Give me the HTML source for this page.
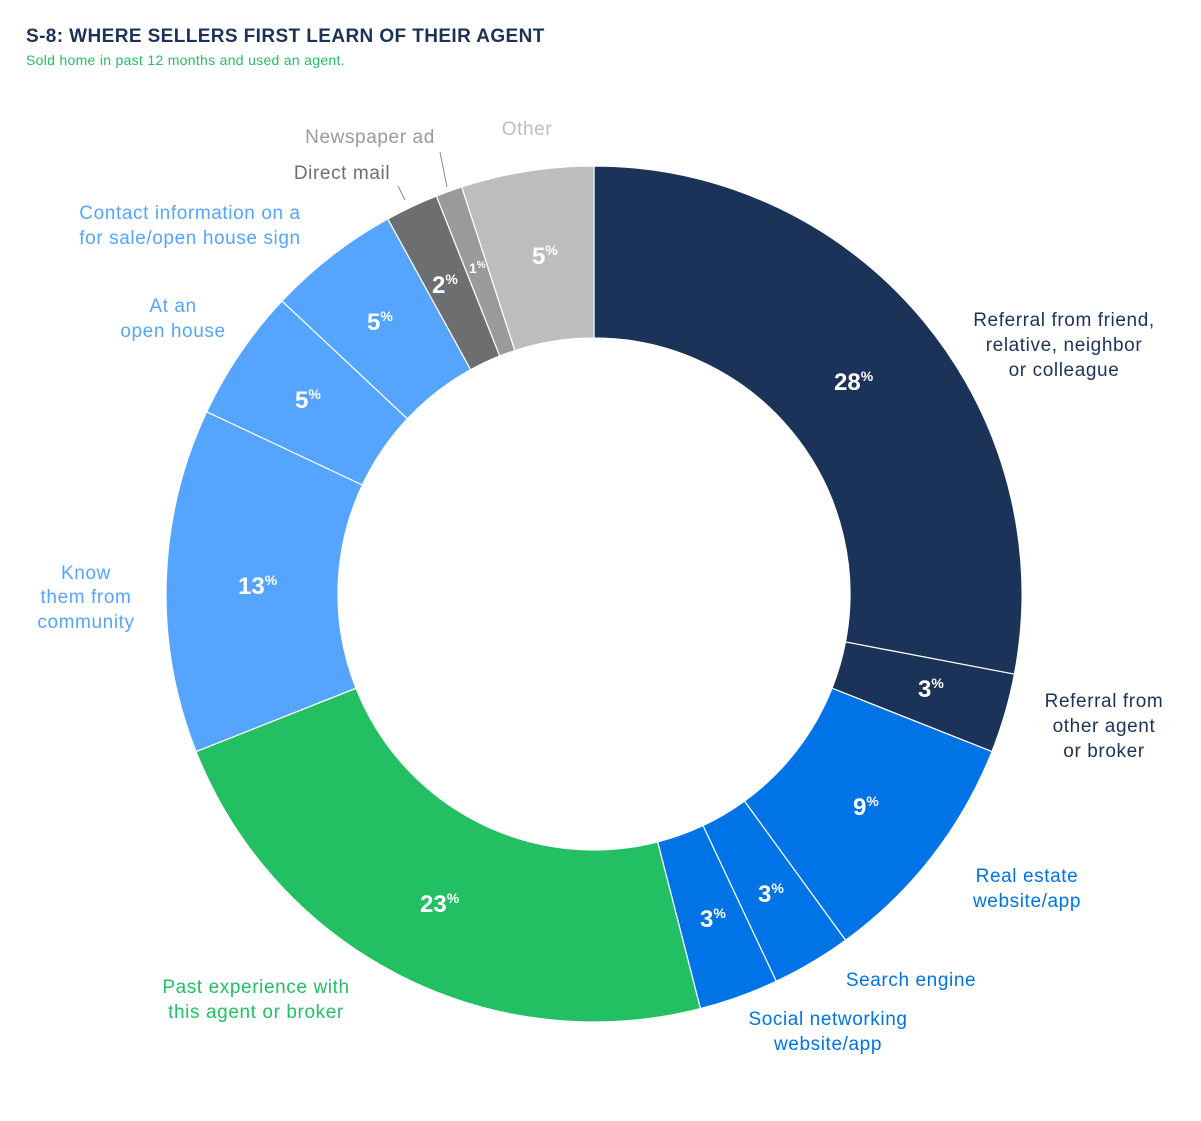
<!DOCTYPE html>
<html><head><meta charset="utf-8"><style>
body{margin:0;background:#fff;width:1201px;height:1116px;overflow:hidden;font-family:"Liberation Sans",sans-serif}
</style></head><body>
<svg id="s" width="1201" height="1116" viewBox="0 0 1201 1116" font-family="Liberation Sans, sans-serif">
<text x="26" y="42" font-size="19" font-weight="bold" fill="#1b3358" letter-spacing="0.4">S-8: WHERE SELLERS FIRST LEARN OF THEIR AGENT</text>
<text x="26" y="65" font-size="14" fill="#22c062" letter-spacing="0.3">Sold home in past 12 months and used an agent.</text>
<g id="slices"></g>
<g stroke="#888" stroke-width="1"><line x1="398" y1="186" x2="405" y2="200"/><line x1="440" y1="152" x2="447" y2="187"/></g>
<g font-size="24" fill="#fff" font-weight="bold">
<text x="834" y="390">28<tspan font-size="14" dy="-9">%</tspan></text>
<text x="918" y="697">3<tspan font-size="14" dy="-9">%</tspan></text>
<text x="853" y="815">9<tspan font-size="14" dy="-9">%</tspan></text>
<text x="758" y="902">3<tspan font-size="14" dy="-9">%</tspan></text>
<text x="700" y="927">3<tspan font-size="14" dy="-9">%</tspan></text>
<text x="420" y="912">23<tspan font-size="14" dy="-9">%</tspan></text>
<text x="238" y="594">13<tspan font-size="14" dy="-9">%</tspan></text>
<text x="295" y="408">5<tspan font-size="14" dy="-9">%</tspan></text>
<text x="367" y="330">5<tspan font-size="14" dy="-9">%</tspan></text>
<text x="432" y="293">2<tspan font-size="14" dy="-9">%</tspan></text>
<text x="469" y="273" font-size="14">1<tspan font-size="10" dy="-5">%</tspan></text>
<text x="532" y="264">5<tspan font-size="14" dy="-9">%</tspan></text>
</g>
<g font-size="19" text-anchor="middle" letter-spacing="0.6">
<text fill="#1b3358"><tspan x="1064" y="326">Referral from friend,</tspan><tspan x="1064" y="351">relative, neighbor</tspan><tspan x="1064" y="376">or colleague</tspan></text>
<text fill="#1b3358"><tspan x="1104" y="707">Referral from</tspan><tspan x="1104" y="732">other agent</tspan><tspan x="1104" y="757">or broker</tspan></text>
<text fill="#0073e6"><tspan x="1027" y="882">Real estate</tspan><tspan x="1027" y="907">website/app</tspan></text>
<text fill="#0073e6" x="911" y="986">Search engine</text>
<text fill="#0073e6"><tspan x="828" y="1025">Social networking</tspan><tspan x="828" y="1050">website/app</tspan></text>
<text fill="#22c062"><tspan x="256" y="993">Past experience with</tspan><tspan x="256" y="1018">this agent or broker</tspan></text>
<text fill="#55a5ff"><tspan x="86" y="579">Know</tspan><tspan x="86" y="603">them from</tspan><tspan x="86" y="628">community</tspan></text>
<text fill="#55a5ff"><tspan x="173" y="312">At an</tspan><tspan x="173" y="337">open house</tspan></text>
<text fill="#55a5ff"><tspan x="190" y="219">Contact information on a</tspan><tspan x="190" y="244">for sale/open house sign</tspan></text>
<text fill="#6d6e70" x="342" y="179">Direct mail</text>
<text fill="#9a9a9a" x="370" y="143">Newspaper ad</text>
<text fill="#bcbdbf" x="527" y="135">Other</text>
</g>
</svg>
<script>
var d=[[28,"#1b3358"],[3,"#1b3358"],[9,"#0073e6"],[3,"#0073e6"],[3,"#0073e6"],[23,"#22c062"],[13,"#55a5ff"],[5,"#55a5ff"],[5,"#55a5ff"],[2,"#6d6e70"],[1,"#9a9a9a"],[5,"#bcbdbf"]];
var cx=594,cy=594,R=428,r=256,a=0,h="";
function p(rad,ang){var t=ang*Math.PI/180;return (cx+rad*Math.sin(t)).toFixed(2)+","+(cy-rad*Math.cos(t)).toFixed(2);}
d.forEach(function(s){var b=a+s[0]*3.6,l=s[0]>50?1:0;
h+='<path d="M'+p(R,a)+' A'+R+','+R+' 0 '+l+' 1 '+p(R,b)+' L'+p(r,b)+' A'+r+','+r+' 0 '+l+' 0 '+p(r,a)+' Z" fill="'+s[1]+'" stroke="#fff" stroke-width="1.2"/>';a=b;});
document.getElementById("slices").innerHTML=h;
</script>
</body></html>
